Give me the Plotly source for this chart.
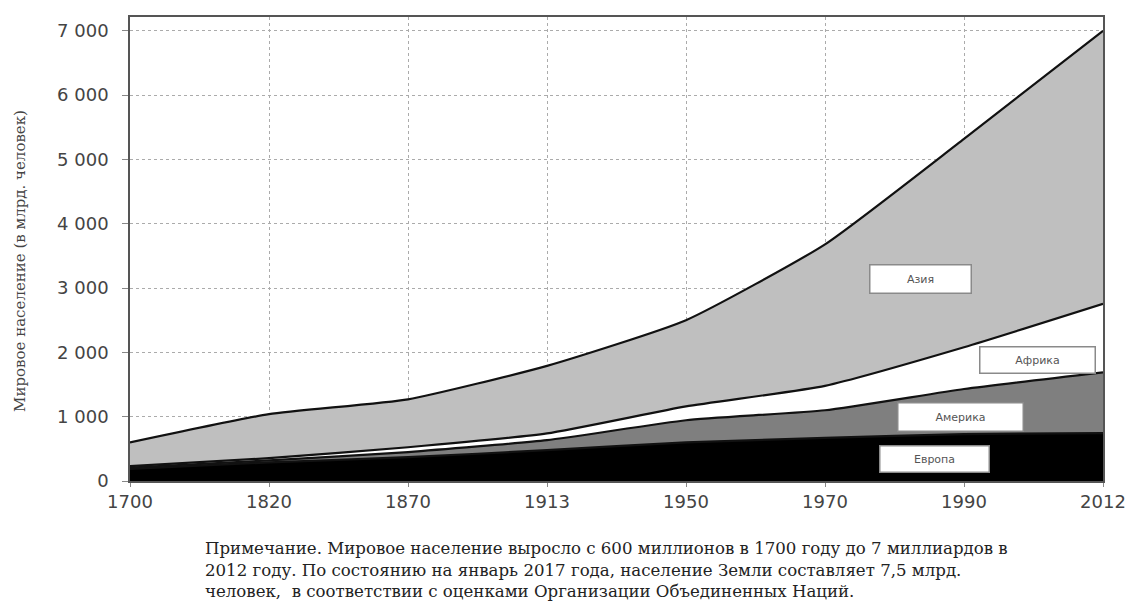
import plotly.graph_objects as go

years = ["1700", "1820", "1870", "1913", "1950", "1970", "1990", "2012"]
europe = [190, 290, 370, 480, 600, 670, 730, 745]
america = [20, 30, 80, 155, 345, 430, 700, 945]
africa = [20, 35, 75, 105, 215, 380, 650, 1065]
asia = [370, 685, 745, 1050, 1340, 2200, 3240, 4245]

series = [
    ("Европа", europe, "#000000"),
    ("Америка", america, "#7f7f7f"),
    ("Африка", africa, "#ffffff"),
    ("Азия", asia, "#bfbfbf"),
]

y_ticks = [0, 1000, 2000, 3000, 4000, 5000, 6000, 7000]

fig = go.Figure()
for name, vals, col in series:
    fig.add_trace(go.Scatter(
        x=years, y=vals, name=name, mode="lines", stackgroup="one",
        fillcolor=col, line=dict(color="#111111", width=2.2, shape="spline", smoothing=0.5),
        hoverinfo="x+y+name",
    ))

# page offset (body margin of the html page)
OFF = 8
FW, FH = 1134, 601
# plot area in page pixels
PL, PR, PT, PB = 130, 1103, 15, 481
W = PR - PL
H = PB - PT

def px(x):
    return (x - PL) / W

def py(y):
    return (PB - y) / H

labels = [
    ("Азия", 920, 278, 98, 25),
    ("Африка", 1037, 359, 112, 23),
    ("Америка", 960, 417, 122, 25),
    ("Европа", 934, 459, 106, 23),
]
for txt, cx, cy, w, h in labels:
    fig.add_annotation(
        x=px(cx), y=py(cy), xref="paper", yref="paper", text=txt, showarrow=False,
        font=dict(family="DejaVu Sans, Arial", size=11, color="#555555"),
        bgcolor="#ffffff", bordercolor="#8a8a8a", borderwidth=1.5, borderpad=1,
        width=w, height=h, xanchor="center", yanchor="middle",
    )

fig.add_annotation(
    x=px(20), y=py(260), xref="paper", yref="paper",
    text="Мировое население (в млрд. человек)", showarrow=False, textangle=-90,
    font=dict(family="DejaVu Serif, Liberation Serif", size=15, color="#444444"),
    xanchor="center", yanchor="middle",
)

fig.add_annotation(
    x=px(203), y=py(537), xref="paper", yref="paper", xanchor="left", yanchor="top",
    align="left", showarrow=False,
    text=("Примечание. Мировое население выросло с 600 миллионов в 1700 году до 7 миллиардов в<br>"
          "2012 году. По состоянию на январь 2017 года, население Земли составляет 7,5 млрд.<br>"
          "человек,  в соответствии с оценками Организации Объединенных Наций."),
    font=dict(family="DejaVu Serif, Liberation Serif", size=16.6, color="#222222"),
)

fig.update_layout(
    width=FW, height=FH,
    margin=dict(l=PL - OFF, r=FW - (PR - OFF), t=PT - OFF, b=FH - (PB - OFF)),
    paper_bgcolor="white", plot_bgcolor="white",
    showlegend=False,
    separators=", ",
    font=dict(family="DejaVu Sans, Arial", size=18, color="#444444"),
)
fig.update_xaxes(
    type="category", range=[0, 7], showgrid=True, gridcolor="#ababab", griddash="dot", gridwidth=1,
    showline=True, linecolor="#555555", linewidth=1.5, mirror=True,
    ticks="outside", ticklen=4, tickcolor="#888888",
    tickfont=dict(family="DejaVu Sans, Arial", size=18, color="#444444"),
)
fig.update_yaxes(
    range=[0, 7214], tickvals=y_ticks, tickformat=",d",
    showgrid=True, gridcolor="#ababab", griddash="dot", gridwidth=1,
    showline=True, linecolor="#555555", linewidth=1.5, mirror=True,
    ticks="outside", ticklen=6, tickcolor="#888888", ticklabelstandoff=10,
    tickfont=dict(family="DejaVu Sans, Arial", size=18, color="#444444"),
    zeroline=False,
)

fig.write_html("out.html")
